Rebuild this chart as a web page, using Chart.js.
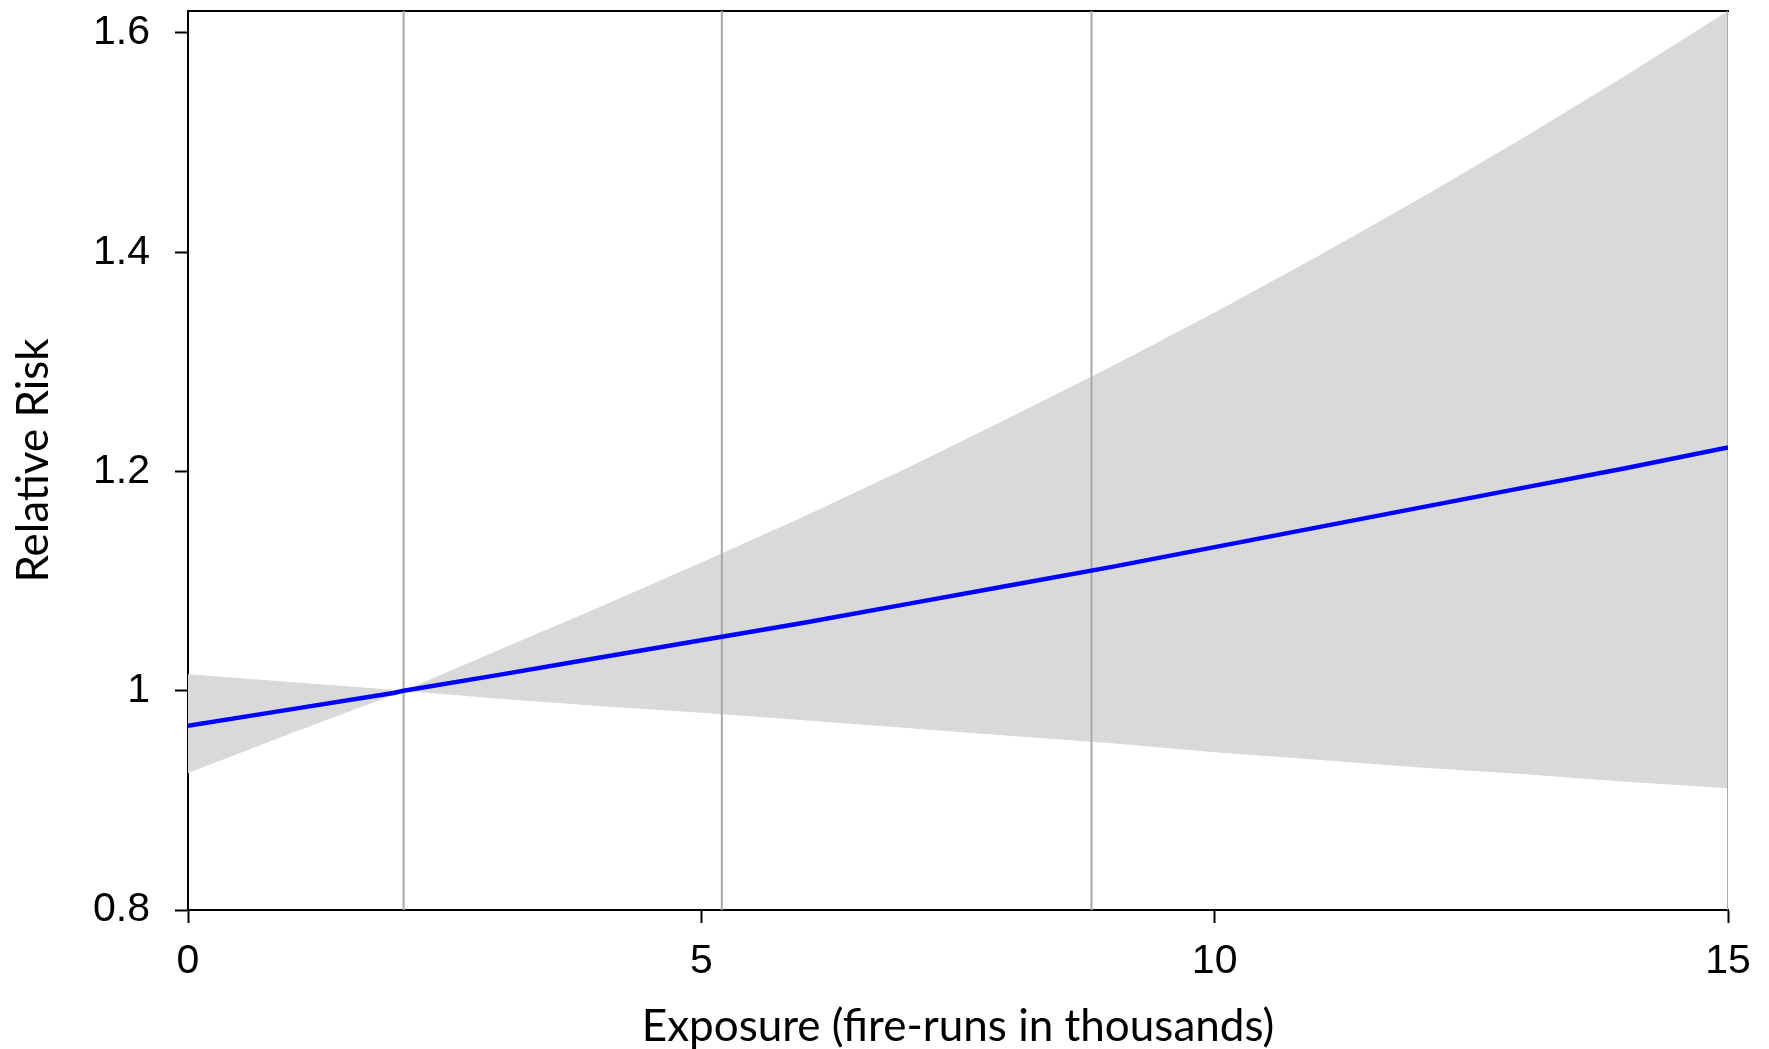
<!DOCTYPE html>
<html>
<head>
<meta charset="utf-8">
<script src="https://cdn.jsdelivr.net/npm/chart.js@4.4.0/dist/chart.umd.min.js"></script>
<style>
html,body{margin:0;padding:0;background:#ffffff;}
#wrap{width:1769px;height:1049px;position:relative;}
</style>
</head>
<body>
<div id="wrap"><canvas id="c" width="1769" height="1049"></canvas></div>
<script>
// ---- data ----
const exposure     = [0,     1,     2,     2.1,   3,     4,     5,     6,     7,     8,     9,     10,    11,    12,    13,    14,    15];
const relativeRisk = [0.968, 0.983, 0.998, 1.000, 1.014, 1.030, 1.046, 1.062, 1.079, 1.096, 1.113, 1.131, 1.149, 1.167, 1.185, 1.203, 1.222];
const upperCI      = [1.015, 1.008, 1.001, 1.000, 1.036, 1.076, 1.117, 1.159, 1.203, 1.249, 1.296, 1.345, 1.396, 1.449, 1.504, 1.561, 1.620];
const lowerCI      = [0.925, 0.961, 0.996, 1.000, 0.993, 0.986, 0.980, 0.973, 0.966, 0.959, 0.952, 0.944, 0.937, 0.930, 0.924, 0.917, 0.911];
const knots        = [2.1, 5.2, 8.8, 15];
const xTickValues  = [0, 5, 10, 15];
const xTickLabels  = ['0', '5', '10', '15'];
const yTickValues  = [0.8, 1.0, 1.2, 1.4, 1.6];
const yTickLabels  = ['0.8', '1', '1.2', '1.4', '1.6'];
const xMin = 0, xMax = 15, yMin = 0.8, yMax = 1.62;
const xTitle = 'Exposure (fire-runs in thousands)';
const yTitle = 'Relative Risk';

const pts = (xs, ys) => xs.map((x, i) => ({x: x, y: ys[i]}));

const datasets = [];
datasets.push({
  label: 'RR', data: pts(exposure, relativeRisk), borderColor: '#0000ff', borderWidth: 4.5,
  pointRadius: 0, fill: false, tension: 0, order: 0
});
knots.forEach(k => {
  datasets.push({
    label: 'knot', data: [{x: k, y: yMin}, {x: k, y: yMax}], borderColor: '#a8a8a8', borderWidth: 2,
    pointRadius: 0, fill: false, order: 1
  });
});
datasets.push({
  label: 'upper', data: pts(exposure, upperCI), borderWidth: 0, borderColor: 'rgba(0,0,0,0)',
  backgroundColor: '#d9d9d9', pointRadius: 0, fill: '+1', tension: 0, order: 2
});
datasets.push({
  label: 'lower', data: pts(exposure, lowerCI), borderWidth: 0, borderColor: 'rgba(0,0,0,0)',
  pointRadius: 0, fill: false, tension: 0, order: 2
});

const tickFont = {family: "'Liberation Sans', Arial, sans-serif", size: 41};
const titleFont = {family: "Lato, 'Open Sans', sans-serif", size: 44, lineHeight: 1};

new Chart(document.getElementById('c'), {
  type: 'line',
  data: {datasets: datasets},
  options: {
    responsive: false,
    animation: false,
    devicePixelRatio: 1,
    layout: {padding: {left: 0, right: 41, top: 11, bottom: 0}},
    plugins: {legend: {display: false}, tooltip: {enabled: false}},
    scales: {
      x: {
        type: 'linear', position: 'bottom', min: xMin, max: xMax,
        afterBuildTicks: s => { s.ticks = xTickValues.map(v => ({value: v})); },
        ticks: {callback: (v, i) => xTickLabels[i], font: tickFont, color: '#000', padding: 14, maxRotation: 0, autoSkip: false},
        grid: {display: true, drawOnChartArea: false, drawTicks: true, tickLength: 13, tickColor: '#000', tickWidth: 2},
        border: {display: true, color: '#000', width: 2},
        title: {display: true, text: xTitle, font: titleFont, color: '#000', padding: {top: 0, bottom: 0}},
        afterFit: s => { s.height = 139; s.paddingLeft = 0; s.paddingRight = 0; }
      },
      xTop: {
        type: 'linear', position: 'top', min: xMin, max: xMax,
        ticks: {display: false},
        grid: {display: false, drawTicks: false},
        border: {display: true, color: '#000', width: 2},
        afterFit: s => { s.height = 0; s.paddingLeft = 0; s.paddingRight = 0; }
      },
      y: {
        type: 'linear', position: 'left', min: yMin, max: yMax,
        afterBuildTicks: s => { s.ticks = yTickValues.map(v => ({value: v})); },
        ticks: {callback: (v, i) => yTickLabels[i], font: tickFont, color: '#000', padding: 25},
        grid: {display: true, drawOnChartArea: false, drawTicks: true, tickLength: 13, tickColor: '#000', tickWidth: 2},
        border: {display: true, color: '#000', width: 2},
        title: {display: true, text: yTitle, font: titleFont, color: '#000', padding: {top: 12, bottom: 0}},
        afterFit: s => { s.width = 188; s.paddingTop = 0; s.paddingBottom = 0; }
      }
    }
  },
  plugins: [{
    id: 'bg',
    beforeDraw: c => { const ctx = c.ctx; ctx.save(); ctx.fillStyle = '#fff'; ctx.fillRect(0, 0, c.width, c.height); ctx.restore(); }
  }]
});
</script>
</body>
</html>
